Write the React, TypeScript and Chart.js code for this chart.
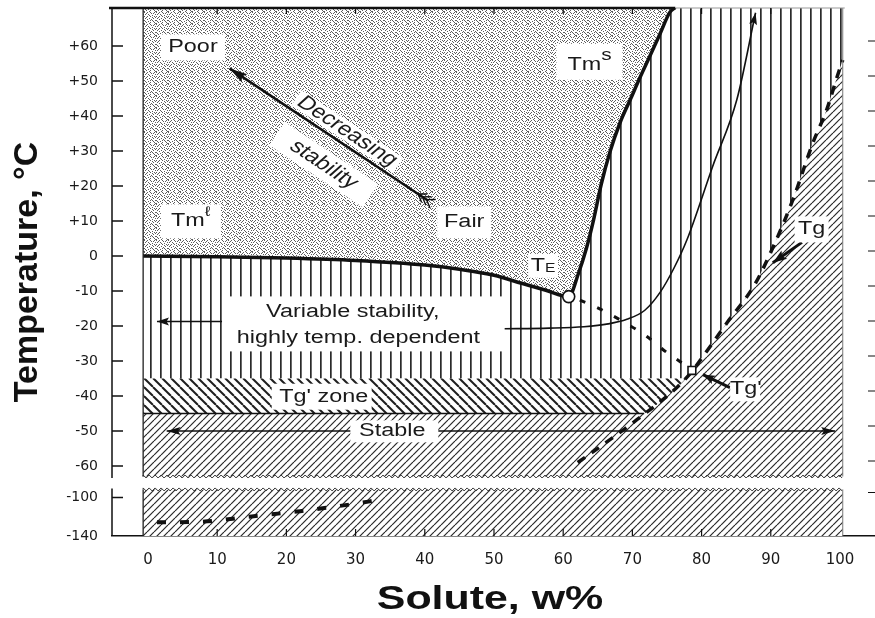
import React, { useEffect, useRef } from 'react';
import { Chart, registerables } from 'chart.js';

Chart.register(...registerables);

// ---------- axes ----------
const xTickValues = [0, 10, 20, 30, 40, 50, 60, 70, 80, 90, 100];
// broken temperature axis: -100 and -140 °C are placed at -69 / -80 on the scale
const yTickValues = [-80, -69, -60, -50, -40, -30, -20, -10, 0, 10, 20, 30, 40, 50, 60];
const yTickLabels = ['-140', '-100', '-60', '-50', '-40', '-30', '-20', '-10', '0', '+10', '+20', '+30', '+40', '+50', '+60'];
const xRange = [-5.2, 105.06];
const yRange = [-80, 70.86];

// ---------- zone limits ----------
const zoneX = [-0.7, 100.4];
const zoneTop = 70.86;
const tgZoneTop = -35;
const tgZoneBottom = -45;
const stableBottom = -63;
const deepTop = -66.7;
const deepBottom = -80;

// ---------- curves ----------
// Tm^l (ice melting curve) down to the eutectic TE
const tmlX = [-0.7, 10, 20, 30, 40, 45, 50, 54, 57.5, 60.8];
const tmlY = [0, -0.2, -0.6, -1.3, -2.6, -3.8, -5.5, -7.8, -9.8, -11.6];
// Tm^s (solute solubility curve) from TE upward
const tmsX = [60.8, 62.2, 63.4, 64.4, 65.5, 66.8, 68.2, 69.7, 71.1, 72.5, 74, 75.4, 76.2];
const tmsY = [-11.6, -5, 2.5, 10.4, 20.5, 30, 38, 44.7, 51, 57, 63.5, 69.6, 71];
// Tg glass curve
const tgX = [62.1, 67.8, 70.7, 76.2, 78.6, 80.2, 83.7, 87.7, 90.3, 93.2, 96.1, 98.1, 99.6, 100.4];
const tgY = [-59, -51, -46.7, -38, -33, -28.7, -19, -8.1, 2.4, 16.1, 32.4, 41.9, 51.3, 56];
// TE -> Tg' non-equilibrium extension
const teTgX = [62.4, 65.5, 68.6, 72.1, 74.4, 77.2];
const teTgY = [-12.6, -15.3, -18.7, -23, -26.7, -30.6];
// glass curve in the lower (-100 .. -140 °C) panel
const deepGlassX = [1.3, 7.9, 15, 22, 29.5, 33];
const deepGlassY = [-76.1, -75.9, -74.4, -72.9, -70.9, -69.8];
// "variable stability" pointer curve
const varX = [51, 58, 63, 66.5, 69.2, 71.8, 74, 76, 77.9, 81.6, 85.1, 87.8];
const varY = [-20.8, -20.6, -20.2, -19.4, -18.1, -15.5, -10.4, -3.5, 4.7, 25.6, 44.7, 69.5];
// arrows
const varArrowX = [10.7, 1.3];
const varArrowY = [-18.7, -18.7];
const stableArrowX = [2.7, 99.3];
const stableArrowY = [-50, -50];
const decArrowX = [40.5, 11.8];
const decArrowY = [15.8, 53.6];
const tgPtrX = [94.5, 90.3];
const tgPtrY = [3.9, -1.9];
const tgpPtrX = [84.1, 80.2];
const tgpPtrY = [-37.6, -33.9];
const tgZoneLineX = [-0.7, 71.7];
const tgZoneLineY = [-45, -45];
// special points
const teX = [60.8];
const teY = [-11.6];
const tgpX = [78.6];
const tgpY = [-32.7];

// ---------- annotations ----------
const labelBoxes = [
  { x: 6.5, y: 59.6, w: 64, h: 26 },
  { x: 6.2, y: 9.9, w: 60, h: 34 },
  { x: 45.7, y: 9.6, w: 54, h: 32 },
  { x: 63.8, y: 55.5, w: 66, h: 36 },
  { x: 57.1, y: -2.8, w: 30, h: 24 },
  { x: 31.6, y: -19.4, w: 276, h: 55 },
  { x: 25.1, y: -40.2, w: 100, h: 26 },
  { x: 35.6, y: -50.1, w: 88, h: 22 },
  { x: 95.9, y: 7.6, w: 34, h: 26 },
  { x: 86.3, y: -38.1, w: 30, h: 24 },
  { x: 25.4, y: 26.1, w: 112, h: 28, angle: 33.6 },
  { x: 28.8, y: 35.6, w: 122, h: 18, angle: 33.6 },
];
const labelTexts = [
  { parts: [{ t: 'Poor' }], x: 6.5, y: 59.6 },
  { parts: [{ t: 'Tm' }, { t: 'ℓ', size: 14, dy: -9 }], x: 6.2, y: 9.9 },
  { parts: [{ t: 'Fair' }], x: 45.7, y: 9.6 },
  { parts: [{ t: 'Tm' }, { t: 's', size: 16, dy: -9 }], x: 63.8, y: 54.7 },
  { parts: [{ t: 'T' }, { t: 'E', size: 12, dy: 2.5 }], x: 57.1, y: -3 },
  { parts: [{ t: 'Variable stability,' }], x: 29.6, y: -15.9 },
  { parts: [{ t: 'highly temp. dependent' }], x: 30.4, y: -23.3 },
  { parts: [{ t: "Tg' zone" }], x: 25.4, y: -40.4 },
  { parts: [{ t: 'Stable' }], x: 35.3, y: -50.1 },
  { parts: [{ t: 'Tg' }], x: 95.9, y: 7.6 },
  { parts: [{ t: "Tg'" }], x: 86.4, y: -38.1 },
  { parts: [{ t: 'Decreasing' }], x: 28.8, y: 35.6, angle: 40.8 },
  { parts: [{ t: 'stability' }], x: 25.4, y: 26.1, angle: 40.8 },
];
const arrowSpecs = [
  { label: 'varArrow', ends: ['end'], len: 12, half: 4 },
  { label: 'stableArrow', ends: ['start', 'end'], len: 14, half: 4 },
  { label: 'decArrow', ends: ['end'], len: 18, half: 5 },
  { label: 'varCurve', ends: ['end'], len: 12, half: 4 },
  { label: 'tgPtr', ends: ['end'], len: 14, half: 5 },
  { label: 'tgpPtr', ends: ['end'], len: 12, half: 4.5 },
];

const SANS = '"Liberation Sans", Arial, "DejaVu Sans", sans-serif';

const pts = (xs: number[], ys: number[]) => xs.map((x, i) => ({ x, y: ys[i] }));

function makePatterns(ctx: CanvasRenderingContext2D) {
  const mk = (w: number, h: number, draw: (g: CanvasRenderingContext2D) => void) => {
    const c = document.createElement('canvas');
    c.width = w;
    c.height = h;
    const g = c.getContext('2d')!;
    g.fillStyle = '#fff';
    g.fillRect(0, 0, w, h);
    draw(g);
    return ctx.createPattern(c, 'repeat')!;
  };
  const stippleRows = [
    '100100100010', '001000010100', '010010000001', '000001001000',
    '100100100010', '001000001001', '010001000100', '000100010000',
    '100000101001', '010010000100', '001000100010', '100001000001',
  ];
  return {
    stipple: mk(12, 12, (g) => {
      g.fillStyle = '#5c5c5c';
      stippleRows.forEach((r, j) => r.split('').forEach((c, i) => { if (c === '1') g.fillRect(i, j, 1, 1); }));
    }),
    vertical: mk(10, 10, (g) => {
      g.fillStyle = '#2a2a2a';
      g.fillRect(0, 0, 1.7, 10);
    }),
    back: mk(9, 9, (g) => {
      g.strokeStyle = '#1e1e1e';
      g.lineWidth = 2;
      for (let k = -1; k <= 1; k++) { g.beginPath(); g.moveTo(k * 9, 0); g.lineTo(k * 9 + 9, 9); g.stroke(); }
    }),
    fwd: mk(7, 7, (g) => {
      g.strokeStyle = '#2a2a2a';
      g.lineWidth = 1.2;
      for (let k = -1; k <= 1; k++) { g.beginPath(); g.moveTo(k * 7, 7); g.lineTo(k * 7 + 7, 0); g.stroke(); }
    }),
  };
}

function drawParts(ctx: CanvasRenderingContext2D, parts: any[], px: number, py: number, opt: any) {
  const size = opt.size || 18;
  const weight = opt.weight || 'normal';
  const sx = opt.sx ?? 1.3;
  ctx.save();
  ctx.translate(px, py);
  ctx.scale(sx, 1);
  if (opt.angle) ctx.rotate((opt.angle * Math.PI) / 180);
  ctx.fillStyle = opt.color || '#1a1a1a';
  ctx.textBaseline = 'middle';
  ctx.textAlign = 'left';
  const widths = parts.map((p) => {
    ctx.font = `${weight} ${p.size || size}px ${SANS}`;
    return ctx.measureText(p.t).width;
  });
  const total = widths.reduce((a, b) => a + b, 0);
  let cx = -total / 2;
  parts.forEach((p, i) => {
    ctx.font = `${weight} ${p.size || size}px ${SANS}`;
    ctx.fillText(p.t, cx, p.dy || 0);
    cx += widths[i];
  });
  ctx.restore();
}

function arrowHead(ctx: CanvasRenderingContext2D, tx: number, ty: number, fx: number, fy: number, len: number, half: number) {
  const a = Math.atan2(ty - fy, tx - fx);
  const c = Math.cos(a), s = Math.sin(a);
  ctx.beginPath();
  ctx.moveTo(tx, ty);
  ctx.lineTo(tx - len * c - half * s, ty - len * s + half * c);
  ctx.lineTo(tx - len * 0.8 * c, ty - len * 0.8 * s);
  ctx.lineTo(tx - len * c + half * s, ty - len * s - half * c);
  ctx.closePath();
  ctx.fill();
}

function zigzag(ctx: CanvasRenderingContext2D, x0: number, x1: number, y: number) {
  ctx.beginPath();
  let up = true;
  ctx.moveTo(x0, y);
  for (let x = x0; x <= x1; x += 3) {
    ctx.lineTo(x, y + (up ? -1.5 : 1.5));
    up = !up;
  }
  ctx.stroke();
}

const decorPlugin = {
  id: 'decor',
  afterDatasetsDraw(chart: any) {
    const { ctx, chartArea: a, scales } = chart;
    const X = (v: number) => scales.x.getPixelForValue(v);
    const Y = (v: number) => scales.y.getPixelForValue(v);
    ctx.save();

    // white boxes behind labels
    ctx.fillStyle = '#fff';
    labelBoxes.forEach((b: any) => {
      ctx.save();
      ctx.translate(X(b.x), Y(b.y));
      if (b.angle) ctx.rotate((b.angle * Math.PI) / 180);
      ctx.fillRect(-b.w / 2, -b.h / 2, b.w, b.h);
      ctx.restore();
    });

    // broken edges between the two panels
    ctx.fillStyle = '#fff';
    ctx.fillRect(X(zoneX[0]) - 1, Y(stableBottom) + 1, X(zoneX[1]) - X(zoneX[0]) + 3, Y(deepTop) - Y(stableBottom) - 2);
    ctx.strokeStyle = '#333';
    ctx.lineWidth = 1;
    zigzag(ctx, X(zoneX[0]), X(zoneX[1]), Y(stableBottom));
    zigzag(ctx, X(zoneX[0]), X(zoneX[1]), Y(deepTop));

    // block edges
    ctx.strokeStyle = '#222';
    ctx.lineWidth = 1.3;
    ctx.beginPath();
    ctx.moveTo(X(zoneX[0]), a.top);
    ctx.lineTo(X(zoneX[0]), Y(stableBottom));
    ctx.moveTo(X(zoneX[0]), Y(deepTop));
    ctx.lineTo(X(zoneX[0]), a.bottom);
    ctx.stroke();
    ctx.strokeStyle = '#777';
    ctx.lineWidth = 1;
    ctx.beginPath();
    ctx.moveTo(X(zoneX[1]), a.top);
    ctx.lineTo(X(zoneX[1]), Y(stableBottom));
    ctx.moveTo(X(zoneX[1]), Y(deepTop));
    ctx.lineTo(X(zoneX[1]), a.bottom);
    ctx.stroke();

    // top frame
    const tmTop = X(tmsX[tmsX.length - 1]);
    ctx.strokeStyle = '#111';
    ctx.lineWidth = 2.5;
    ctx.beginPath();
    ctx.moveTo(a.left - 3, a.top);
    ctx.lineTo(tmTop, a.top);
    ctx.stroke();
    ctx.strokeStyle = '#999';
    ctx.lineWidth = 1;
    ctx.beginPath();
    ctx.moveTo(tmTop, a.top);
    ctx.lineTo(X(zoneX[1]) + 2, a.top);
    ctx.stroke();

    // left axis with break
    ctx.strokeStyle = '#111';
    ctx.lineWidth = 1.5;
    ctx.beginPath();
    ctx.moveTo(a.left, a.top);
    ctx.lineTo(a.left, Y(stableBottom) + 1.5);
    ctx.moveTo(a.left, Y(deepTop) - 1);
    ctx.lineTo(a.left, a.bottom);
    ctx.stroke();
    // inner ticks on left and right, top and bottom
    ctx.beginPath();
    yTickValues.forEach((v) => {
      if (v === yRange[0]) return;
      ctx.moveTo(a.left, Y(v));
      ctx.lineTo(a.left + 11, Y(v));
    });
    ctx.stroke();
    ctx.lineWidth = 1.2;
    ctx.beginPath();
    yTickValues.forEach((v) => {
      if (v === yRange[0]) return;
      ctx.moveTo(a.right - 7, Y(v) - 5);
      ctx.lineTo(a.right, Y(v) - 5);
    });
    xTickValues.forEach((v) => {
      if (v === 0 || v === 100) return;
      ctx.moveTo(X(v), a.top);
      ctx.lineTo(X(v), a.top + 6);
      ctx.moveTo(X(v), a.bottom);
      ctx.lineTo(X(v), a.bottom - 7);
    });
    ctx.stroke();

    // arrowheads
    ctx.fillStyle = '#111';
    arrowSpecs.forEach((s) => {
      const idx = chart.data.datasets.findIndex((d: any) => d.label === s.label);
      const p = chart.getDatasetMeta(idx).data;
      const n = p.length;
      s.ends.forEach((e) => {
        if (e === 'end') arrowHead(ctx, p[n - 1].x, p[n - 1].y, p[n - 2].x, p[n - 2].y, s.len, s.half);
        else arrowHead(ctx, p[0].x, p[0].y, p[1].x, p[1].y, s.len, s.half);
      });
    });
    // fletching at the tail of the "decreasing stability" arrow
    {
      const idx = chart.data.datasets.findIndex((d: any) => d.label === 'decArrow');
      const p = chart.getDatasetMeta(idx).data;
      const dx = p[0].x - p[1].x, dy = p[0].y - p[1].y;
      const L = Math.hypot(dx, dy);
      const ux = dx / L, uy = dy / L;
      ctx.strokeStyle = '#111';
      ctx.lineWidth = 1.4;
      ctx.beginPath();
      for (let k = 0; k < 3; k++) {
        const bx = p[0].x - ux * (k * 5 + 2), by = p[0].y - uy * (k * 5 + 2);
        [0.6, -0.6].forEach((ang) => {
          const c = Math.cos(ang), s = Math.sin(ang);
          const rx = ux * c - uy * s, ry = ux * s + uy * c;
          ctx.moveTo(bx, by);
          ctx.lineTo(bx + rx * 9, by + ry * 9);
        });
      }
      ctx.stroke();
    }

    // labels
    labelTexts.forEach((l: any) => drawParts(ctx, l.parts, X(l.x), Y(l.y), { angle: l.angle, size: l.angle ? 19 : 18 }));

    // axis titles
    drawParts(ctx, [{ t: 'Solute, w%' }], 490, 600, { size: 33, weight: 'bold', sx: 1.3, color: '#111' });
    ctx.save();
    ctx.translate(28, 272);
    ctx.rotate(-Math.PI / 2);
    ctx.font = `bold 34px ${SANS}`;
    ctx.fillStyle = '#111';
    ctx.textAlign = 'center';
    ctx.textBaseline = 'middle';
    ctx.fillText('Temperature, °C', 0, 0);
    ctx.restore();

    ctx.restore();
  },
};

export default function App() {
  const ref = useRef<HTMLCanvasElement>(null);
  useEffect(() => {
    const canvas = ref.current!;
    const pat = makePatterns(canvas.getContext('2d')!);
    const boundaryX = [...tmlX, ...tmsX.slice(1)];
    const boundaryY = [...tmlY, ...tmsY.slice(1)];

    const line = (label: string, data: any[], o: any = {}) => ({
      label, data, fill: false, borderColor: '#111', backgroundColor: 'transparent',
      borderWidth: 1.5, pointRadius: 0, order: 2, tension: 0, ...o,
    });
    const area = (label: string, data: any[], fill: any, bg: any, order: number, mono = false) => ({
      label, data, fill, backgroundColor: bg, borderWidth: 0, borderColor: 'transparent',
      pointRadius: 0, order, tension: 0, cubicInterpolationMode: mono ? 'monotone' : 'default',
    });
    const marker = (label: string, data: any[], style: string, r: number) => ({
      label, data, showLine: false, pointRadius: r, pointStyle: style,
      pointBackgroundColor: '#fff', pointBorderColor: '#111', pointBorderWidth: 1.6, order: 1,
    });

    const chart = new Chart(canvas, {
      type: 'line',
      data: {
        datasets: [
          marker('TE', pts(teX, teY), 'circle', 6),
          marker("Tg'", pts(tgpX, tgpY), 'rect', 5.5),
          line('tmBoundary', pts(boundaryX, boundaryY), { borderWidth: 3.5, cubicInterpolationMode: 'monotone', order: 3 }),
          line('tgCurve', pts(tgX, tgY), { borderWidth: 3.5, borderDash: [9, 8], cubicInterpolationMode: 'monotone', order: 3 }),
          line('teTg', pts(teTgX, teTgY), { borderWidth: 3, borderDash: [6, 13], cubicInterpolationMode: 'monotone' }),
          line('deepGlass', pts(deepGlassX, deepGlassY), { borderWidth: 4, borderDash: [9, 14], cubicInterpolationMode: 'monotone' }),
          line('varCurve', pts(varX, varY), { borderWidth: 1.6, cubicInterpolationMode: 'monotone' }),
          line('varArrow', pts(varArrowX, varArrowY), { borderWidth: 1.5 }),
          line('stableArrow', pts(stableArrowX, stableArrowY), { borderWidth: 1.5 }),
          line('decArrow', pts(decArrowX, decArrowY), { borderWidth: 2.5 }),
          line('tgPtr', pts(tgPtrX, tgPtrY), { borderWidth: 3 }),
          line('tgpPtr', pts(tgpPtrX, tgpPtrY), { borderWidth: 3 }),
          line('tgZoneLine', pts(tgZoneLineX, tgZoneLineY), { borderWidth: 1.5 }),
          area('vertical', pts(zoneX, [zoneTop, zoneTop]), { value: tgZoneTop }, pat.vertical, 30),
          area('tgZone', pts(zoneX, [tgZoneTop, tgZoneTop]), { value: tgZoneBottom }, pat.back, 29),
          area('stable', pts(zoneX, [tgZoneBottom, tgZoneBottom]), { value: stableBottom }, pat.fwd, 28),
          area('glassy', pts(tgX, tgY), { value: stableBottom }, pat.fwd, 27, true),
          area('liquid', pts(boundaryX, boundaryY), 'end', pat.stipple, 26, true),
          area('deep', pts(zoneX, [deepTop, deepTop]), { value: deepBottom }, pat.fwd, 25),
        ] as any,
      },
      options: {
        responsive: false,
        animation: false,
        events: [],
        layout: { autoPadding: false, padding: { top: 8, left: 0, right: 0, bottom: 0 } },
        plugins: { legend: { display: false }, tooltip: { enabled: false } },
        elements: { point: { radius: 0 } },
        scales: {
          x: {
            type: 'linear',
            min: xRange[0],
            max: xRange[1],
            afterBuildTicks: (s: any) => { s.ticks = xTickValues.map((v) => ({ value: v })); },
            afterFit: (s: any) => { s.height = 82; s.paddingLeft = 0; s.paddingRight = 0; },
            grid: { drawOnChartArea: false, drawTicks: false },
            border: { display: true, color: '#111', width: 1.6 },
            ticks: {
              padding: 15, color: '#1a1a1a', autoSkip: false, maxRotation: 0,
              font: { family: '"DejaVu Sans", sans-serif', size: 15 },
              callback: (v: any) => String(v),
            },
          },
          y: {
            type: 'linear',
            min: yRange[0],
            max: yRange[1],
            afterBuildTicks: (s: any) => { s.ticks = yTickValues.map((v) => ({ value: v })); },
            afterFit: (s: any) => { s.width = 112; s.paddingTop = 0; s.paddingBottom = 0; },
            grid: { drawOnChartArea: false, drawTicks: true, tickLength: 14, color: 'rgba(0,0,0,0)' },
            border: { display: false },
            ticks: {
              padding: 0, color: '#1a1a1a', autoSkip: false,
              font: { family: '"DejaVu Sans", sans-serif', size: 14 },
              callback: (v: any) => yTickLabels[yTickValues.indexOf(v)] ?? '',
            },
          },
        },
      } as any,
      plugins: [decorPlugin],
    });
    return () => chart.destroy();
  }, []);
  return (
    <div style={{ position: 'fixed', left: 0, top: 0, width: 875, height: 618, background: '#fff' }}>
      <canvas ref={ref} width={875} height={618} style={{ display: 'block', width: 875, height: 618 }} />
    </div>
  );
}
